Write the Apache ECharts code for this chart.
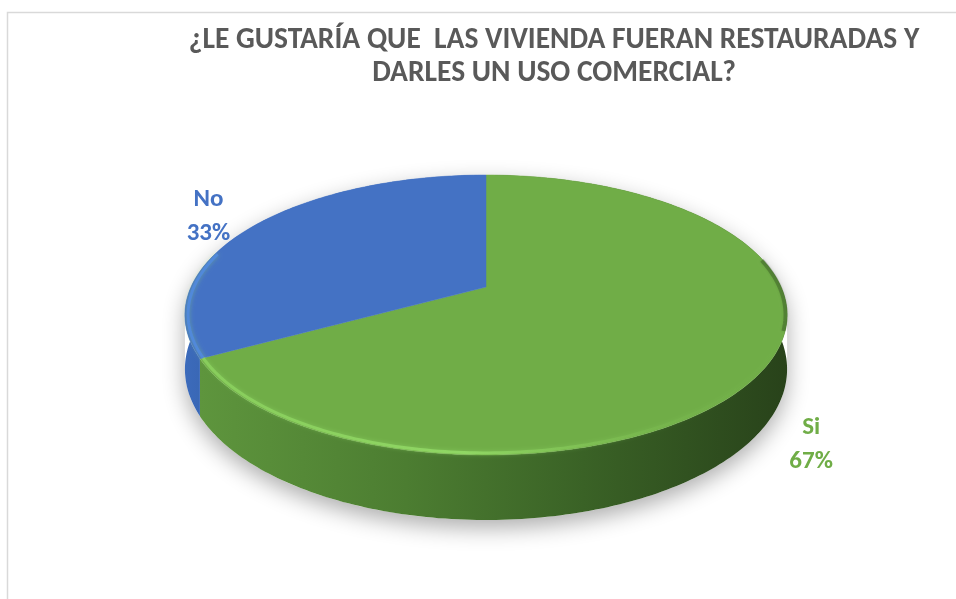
<!DOCTYPE html>
<html><head><meta charset="utf-8">
<script src="https://cdn.jsdelivr.net/npm/echarts@6/dist/echarts.min.js"></script>
<style>html,body{margin:0;padding:0;background:#fff}#chart{width:956px;height:599px}</style>
</head><body><div id="chart"></div>
<script>
const titleLines = ['¿LE GUSTARÍA QUE  LAS VIVIENDA FUERAN RESTAURADAS Y', 'DARLES UN USO COMERCIAL?'];
const categories = ['Si', 'No'];
const values = [67, 33];

const FONT = 'Carlito, "Liberation Sans Narrow", "DejaVu Sans Condensed", sans-serif';
const topColors = ['#70AD47', '#4472C4'];
const sideFills = [
  {type:'linear', x:200, y:0, x2:790, y2:0, global:true, colorStops:[
    {offset:0, color:'#5e953d'}, {offset:0.35, color:'#4c7d31'}, {offset:0.65, color:'#3a6226'}, {offset:1, color:'#28421a'}]},
  {type:'linear', x:185, y:0, x2:215, y2:0, global:true, colorStops:[
    {offset:0, color:'#3c6bbb'}, {offset:1, color:'#3764b0'}]}
];
const rimColors = [
  {type:'linear', x:200, y:0, x2:790, y2:0, global:true, colorStops:[
    {offset:0, color:'rgba(140,210,95,0.8)'}, {offset:0.45, color:'rgba(148,220,104,0.85)'},
    {offset:0.75, color:'rgba(130,195,85,0.35)'}, {offset:1, color:'rgba(110,170,70,0)'}]},
  'rgba(80,138,228,0.8)'
];
const labelColors = ['#70AD47', '#4472C4'];
const labelNudge = [[-22, 5], [-6, 3]];

// perspective projection of the pie disk
const CX = 486, CY = 287, A = 295, B = 134.4, K = 0.2, H = 52;
function proj(deg, r, drop) {
  const t = deg * Math.PI / 180;
  const X = r * Math.sin(t), Z = r * Math.cos(t);
  const w = 1 + K * Z;
  return [CX + A * X / w, CY - B * Z / w + (drop ? H / w : 0)];
}
function arc(a0, a1, r, drop) {
  const pts = [];
  const n = Math.max(2, Math.ceil(Math.abs(a1 - a0)));
  for (let i = 0; i <= n; i++) pts.push(proj(a0 + (a1 - a0) * i / n, r, drop));
  return pts;
}
const total = values.reduce((s, v) => s + v, 0);

function renderItem(params, api) {
  const idx = params.dataIndex;
  let start = 0;
  for (let i = 0; i < idx; i++) start += values[i] / total * 360;
  const v = api.value(0);
  const end = start + v / total * 360;
  const children = [];
  if (idx === 0) {
    const sil = arc(258.5, 461.5, 1, false).concat(arc(101.5, 258.5, 1, true));
    children.push({type:'polygon', shape:{points:sil}, z2:-1,
      style:{fill:'#fff', shadowBlur:22, shadowColor:'rgba(0,0,0,0.32)', shadowOffsetY:8}});
  }
  // side wall
  const side = arc(start, end, 1, false).concat(arc(end, start, 1, true));
  children.push({type:'polygon', shape:{points:side}, z2:0, style:{fill:sideFills[idx]}});
  // top face
  const top = [[CX, CY]].concat(arc(start, end, 1, false));
  children.push({type:'polygon', shape:{points:top}, z2:10, style:{fill:topColors[idx], stroke:topColors[idx], lineWidth:0.5}});
  // front rim highlight
  const fa = Math.max(start, 100), fb = Math.min(end, 285);
  if (fb > fa) {
    children.push({type:'polyline', shape:{points:arc(fa, fb, 0.99, false)}, z2:11,
      style:{stroke:rimColors[idx], lineWidth:3, fill:null, shadowBlur:4, shadowColor:'rgba(150,225,110,0.5)'}});
  }
  if (idx === 0) {
    children.push({type:'polyline', shape:{points:arc(78, 108, 0.995, false)}, z2:11,
      style:{stroke:'rgba(40,70,25,0.35)', lineWidth:4, fill:null, shadowBlur:3, shadowColor:'rgba(40,70,25,0.4)'}});
  }
  // label
  const mid = (start + end) / 2;
  const t = mid * Math.PI / 180;
  const p = proj(mid, 1.2, Math.cos(t) < 0);
  const pct = Math.round(v / total * 100);
  children.push({type:'text', x:p[0] + labelNudge[idx][0], y:p[1] + labelNudge[idx][1], z2:20,
    style:{text:categories[idx] + '\n' + pct + '%', fill:labelColors[idx], fontSize:25, fontWeight:'bold',
      fontFamily:FONT, align:'center', verticalAlign:'middle', lineHeight:34}});
  return {type:'group', children};
}

const chart = echarts.init(document.getElementById('chart'), null, {renderer:'canvas'});
chart.setOption({
  animation:false,
  title:{text:titleLines.join('\n'), left:549, top:19, textAlign:'center',
    textStyle:{color:'#595959', fontSize:29.5, fontWeight:'bold', fontFamily:FONT, lineHeight:33}},
  graphic:[{type:'rect', shape:{x:7.5, y:12.5, width:1000, height:700}, silent:true,
    style:{fill:null, stroke:'#d9d9d9', lineWidth:1.5}}],
  series:[{type:'custom', coordinateSystem:'none', silent:true, renderItem,
    data:values.map((v, i) => ({name:categories[i], value:v}))}]
});
</script></body></html>
